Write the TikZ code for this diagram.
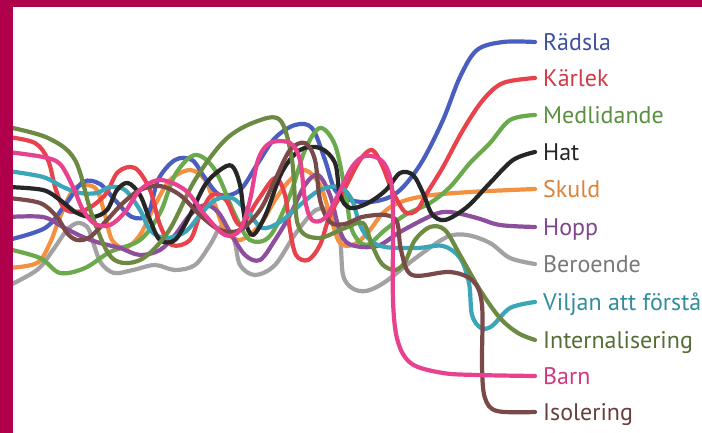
\documentclass[tikz,border=0pt]{standalone}
\usepackage{fontspec}
\setmainfont{PT Sans}
\definecolor{frame}{HTML}{B0004C}
\definecolor{cRad}{HTML}{4A5EC0}
\definecolor{cKar}{HTML}{E8424C}
\definecolor{cMed}{HTML}{6AAA4C}
\definecolor{cHat}{HTML}{262626}
\definecolor{cSku}{HTML}{F39140}
\definecolor{cHop}{HTML}{8E4E9E}
\definecolor{cBer}{HTML}{A2A2A4}
\definecolor{cVil}{HTML}{3AA6B8}
\definecolor{cInt}{HTML}{6C8A42}
\definecolor{cBar}{HTML}{E8418E}
\definecolor{cIso}{HTML}{7A4A48}
\tikzset{
	strand/.style={line width=4.2pt, line cap=round, line join=round},
	lbl/.style={anchor=west, inner xsep=8pt, inner ysep=0pt,
		text height=17pt, text depth=0pt,
		font=\fontsize{24}{28}\selectfont},
}
\begin{document}
\begin{tikzpicture}[x=1pt, y=-1pt]
	\useasboundingbox (0,0) rectangle (702,433);
	\fill[white] (0,0) rectangle (702,433);

	\node[lbl, text=cRad!85!black] (rad) at (535,42) {Rädsla};
	\node[lbl, text=cKar!90!black] (kar) at (535,78) {Kärlek};
	\node[lbl, text=cMed!85!black] (med) at (535,115) {Medlidande};
	\node[lbl, text=cHat] (hat) at (535,152) {Hat};
	\node[lbl, text=cSku!90!black] (sku) at (535,189) {Skuld};
	\node[lbl, text=cHop!90!black] (hop) at (535,227) {Hopp};
	\node[lbl, text=cBer!75!black] (ber) at (535,264) {Beroende};
	\node[lbl, text=cVil!85!black] (vil) at (535,302) {Viljan att förstå};
	\node[lbl, text=cInt!80!black] (int) at (535,340) {Internalisering};
	\node[lbl, text=cBar!90!black] (bar) at (535,376) {Barn};
	\node[lbl, text=cIso!85!black] (iso) at (535,412) {Isolering};

	\coordinate (s-rad) at (8,240);
	\coordinate (s-kar) at (8,137);
	\coordinate (s-med) at (8,249);
	\coordinate (s-hat) at (8,187);
	\coordinate (s-sku) at (8,268);
	\coordinate (s-hop) at (8,217);
	\coordinate (s-ber) at (8,286);
	\coordinate (s-vil) at (8,171);
	\coordinate (s-int) at (8,127);
	\coordinate (s-bar) at (8,152);
	\coordinate (s-iso) at (8,198);

	\draw[strand, cBer] plot[smooth, tension=0.55] coordinates {(s-ber) (37,270) (53,250) (67,230) (78,223) (88,228) (94,245) (101,263) (114,273) (133,270) (155,265) (175,270) (195,265) (210,245) (222,226) (234,240) (240,265) (255,275) (275,265) (296,233) (316,210) (331,213) (340,240) (343,275) (352,288) (366,291) (385,282) (417,257) (447,237) (467,235) (490,243) (510,258) (ber.west)};
	\draw[strand, cSku] plot[smooth, tension=0.55] coordinates {(s-sku) (37,263) (50,243) (60,217) (73,190) (85,185) (97,190) (105,215) (112,240) (125,248) (140,235) (155,205) (170,180) (190,170) (205,180) (215,205) (225,230) (240,240) (260,225) (275,200) (290,180) (305,170) (320,185) (330,215) (340,243) (355,244) (370,230) (382,214) (398,203) (425,196) (470,192) (sku.west)};
	\draw[strand, cRad] plot[smooth, tension=0.55] coordinates {(s-rad) (45,228) (65,205) (83,182) (100,184) (115,200) (132,217) (148,214) (158,180) (175,160) (192,160) (205,178) (220,195) (240,190) (258,163) (275,138) (295,125) (312,128) (325,160) (335,190) (350,200) (370,202) (390,197) (405,185) (423,160) (443,120) (460,77) (477,50) (503,42) (rad.west)};
	\draw[strand, cMed] plot[smooth, tension=0.55] coordinates {(s-med) (40,258) (60,273) (85,268) (110,252) (140,240) (160,213) (175,175) (195,155) (215,170) (235,215) (250,240) (270,236) (290,195) (305,150) (320,128) (335,145) (345,190) (352,230) (366,245) (385,230) (405,215) (430,203) (450,187) (470,163) (490,143) (510,120) (med.west)};
	\draw[strand, cHop] plot[smooth, tension=0.55] coordinates {(s-hop) (43,217) (63,227) (83,237) (100,243) (120,248) (140,255) (160,250) (175,235) (190,215) (205,205) (218,212) (230,232) (245,255) (260,260) (275,240) (290,215) (305,185) (318,175) (330,195) (338,225) (346,242) (362,247) (380,245) (400,232) (433,215) (450,212) (477,218) (500,225) (hop.west)};
	\draw[strand, cKar] plot[smooth, tension=0.55] coordinates {(s-kar) (35,143) (48,160) (56,190) (66,210) (85,210) (105,195) (118,172) (135,168) (150,190) (160,225) (172,245) (190,240) (200,215) (212,195) (226,200) (240,225) (258,200) (275,178) (285,195) (290,230) (296,255) (308,260) (320,245) (330,215) (345,188) (360,160) (372,150) (382,165) (392,190) (405,212) (417,210) (427,193) (443,167) (463,130) (483,100) (503,83) (kar.west)};
	\draw[strand, cVil] plot[smooth, tension=0.55] coordinates {(s-vil) (43,177) (63,187) (80,193) (97,193) (110,187) (125,190) (140,210) (150,230) (165,238) (185,232) (200,215) (215,200) (232,198) (248,212) (262,228) (280,222) (300,205) (320,190) (340,187) (352,200) (360,225) (370,240) (385,247) (417,248) (443,246) (460,258) (469,283) (472,315) (481,328) (492,326) (510,308) (vil.west)};
	\draw[strand, cHat] plot[smooth, tension=0.55] coordinates {(s-hat) (43,190) (60,200) (77,213) (93,217) (107,210) (117,190) (128,183) (140,195) (150,220) (160,240) (175,240) (190,215) (205,185) (220,170) (232,166) (240,185) (245,220) (253,235) (266,214) (282,172) (300,150) (320,148) (335,163) (340,195) (350,208) (368,203) (386,190) (400,173) (413,175) (423,193) (432,214) (445,220) (467,207) (490,183) (513,160) (hat.west)};
	\draw[strand, cInt] plot[smooth, tension=0.55] coordinates {(s-int) (48,138) (75,160) (92,215) (112,258) (140,260) (168,232) (195,180) (225,140) (255,122) (280,120) (292,160) (298,225) (318,238) (345,228) (363,223) (372,245) (382,264) (395,270) (405,262) (415,240) (430,227) (445,230) (460,255) (480,290) (500,318) (518,333) (int.west)};
	\draw[strand, cIso] plot[smooth, tension=0.55] coordinates {(s-iso) (40,203) (57,217) (67,233) (77,240) (90,237) (107,220) (123,203) (140,190) (160,186) (180,195) (200,215) (220,230) (240,230) (260,210) (275,180) (290,150) (305,143) (315,160) (320,200) (330,222) (345,224) (362,217) (385,215) (397,222) (401,250) (412,275) (450,272) (473,281) (482,305) (482,367) (485,398) (497,411) (iso.west)};
	\draw[strand, cBar] plot[smooth, tension=0.55] coordinates {(s-bar) (43,157) (60,164) (73,187) (83,210) (95,224) (110,225) (125,212) (140,190) (160,180) (185,190) (205,215) (225,235) (240,230) (250,200) (258,160) (270,143) (290,143) (300,160) (305,200) (312,220) (325,218) (338,195) (352,167) (365,156) (381,160) (390,177) (393,210) (393,300) (398,342) (412,364) (443,373) (477,375) (bar.west)};

	% frame
	\fill[frame] (0,0) rectangle (702,7);
	\fill[frame] (0,0) rectangle (13,433);
\end{tikzpicture}
\end{document}
